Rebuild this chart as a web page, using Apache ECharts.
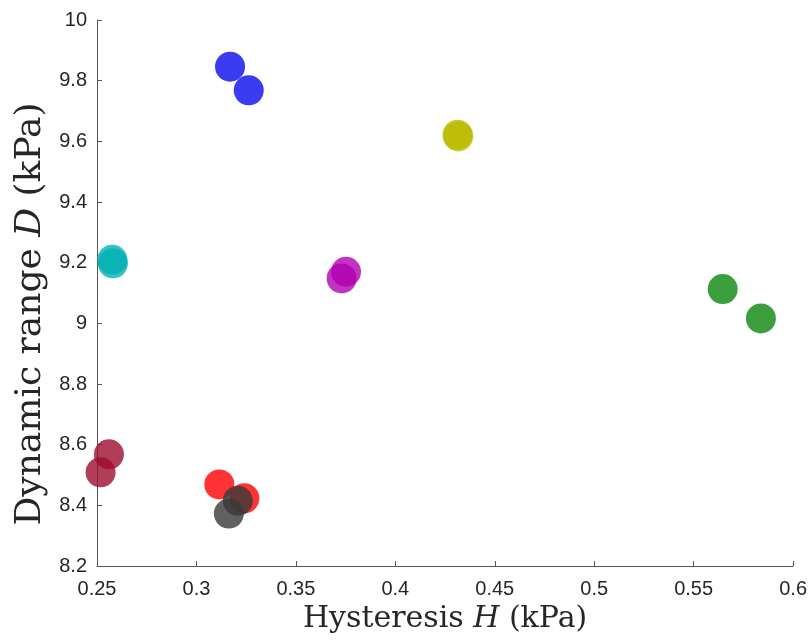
<!DOCTYPE html>
<html>
<head>
<meta charset="utf-8">
<script src="https://cdn.jsdelivr.net/npm/echarts@6/dist/echarts.min.js"></script>
<style>html,body{margin:0;padding:0;background:#fff}#c{width:810px;height:641px}</style>
</head>
<body>
<div id="c"></div>
<script>
// Data
const groupNames = ['blue', 'cyan', 'magenta', 'yellow', 'green', 'darkred', 'red', 'black'];
const groupColors = ['rgb(10,10,238)', 'rgb(0,178,178)', 'rgb(178,0,178)', 'rgb(188,188,0)',
                     'rgb(12,134,12)', 'rgb(158,12,46)', 'rgb(255,0,0)', 'rgb(58,58,58)'];
const blueH = [0.3169, 0.3263];     const blueD = [9.846, 9.768];
const cyanH = [0.2577, 0.2580];     const cyanD = [9.210, 9.198];
const magentaH = [0.3752, 0.3730];  const magentaD = [9.170, 9.148];
const yellowH = [0.4313, 0.4316];   const yellowD = [9.622, 9.616];
const greenH = [0.5646, 0.5838];    const greenD = [9.113, 9.016];
const darkredH = [0.2560, 0.2518];  const darkredD = [8.568, 8.509];
const redH = [0.3115, 0.3241];      const redD = [8.469, 8.423];
const blackH = [0.3163, 0.3208];    const blackD = [8.373, 8.415];
const xTicks = [0.25, 0.3, 0.35, 0.4, 0.45, 0.5, 0.55, 0.6];
const yTicks = [8.2, 8.4, 8.6, 8.8, 9, 9.2, 9.4, 9.6, 9.8, 10];

const groupsH = [blueH, cyanH, magentaH, yellowH, greenH, darkredH, redH, blackH];
const groupsD = [blueD, cyanD, magentaD, yellowD, greenD, darkredD, redD, blackD];

const series = groupNames.map((n, i) => ({
  name: n,
  type: 'scatter',
  symbolSize: 30,
  data: groupsH[i].map((h, j) => [h, groupsD[i][j]]),
  itemStyle: { color: groupColors[i], opacity: 0.8 }
}));

const chart = echarts.init(document.getElementById('c'));
const axisColor = '#555555';
const labelColor = '#262626';
chart.setOption({
  animation: false,
  grid: { left: 97, right: 16, top: 20, bottom: 75 },
  xAxis: {
    type: 'value', min: 0.25, max: 0.6, interval: 0.05,
    name: 'Hysteresis {i|H} (kPa)',
    nameLocation: 'middle', nameGap: 36,
    nameTextStyle: {
      fontFamily: 'DejaVu Serif', fontSize: 30, color: labelColor,
      rich: { i: { fontFamily: 'DejaVu Serif', fontStyle: 'italic', fontSize: 30, color: labelColor } }
    },
    axisLine: { show: true, lineStyle: { color: axisColor, width: 1 } },
    axisTick: { show: true, inside: true, length: 5, lineStyle: { color: axisColor } },
    splitLine: { show: false },
    axisLabel: {
      margin: 13, fontFamily: 'Liberation Sans', fontSize: 20, color: labelColor,
      formatter: v => String(parseFloat(v.toFixed(2)))
    }
  },
  yAxis: {
    type: 'value', min: 8.2, max: 10, interval: 0.2,
    name: 'Dynamic range {i|D} (kPa)',
    nameLocation: 'middle', nameGap: 48,
    nameTextStyle: {
      fontFamily: 'DejaVu Serif', fontSize: 36, color: labelColor, padding: [0, 42, 0, 0],
      rich: { i: { fontFamily: 'DejaVu Serif', fontStyle: 'italic', fontSize: 36, color: labelColor } }
    },
    axisLine: { show: true, lineStyle: { color: axisColor, width: 1 } },
    axisTick: { show: true, inside: true, length: 5, lineStyle: { color: axisColor } },
    splitLine: { show: false },
    axisLabel: {
      margin: 10, fontFamily: 'Liberation Sans', fontSize: 20, color: labelColor,
      formatter: v => String(parseFloat(v.toFixed(1)))
    }
  },
  series: series
});
</script>
</body>
</html>
